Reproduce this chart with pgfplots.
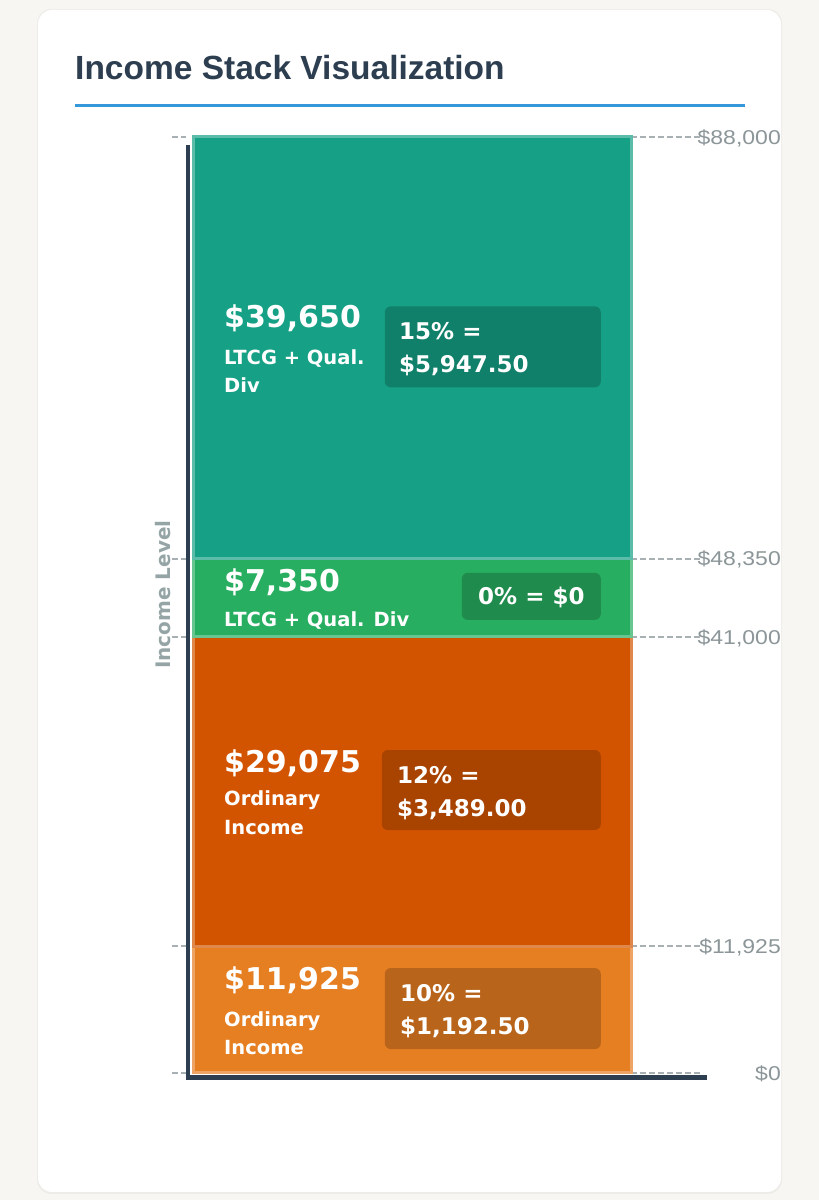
\documentclass[border=0pt]{standalone}
\usepackage{pgfplots}
\pgfplotsset{compat=1.18}
\usepackage{fontspec}
\setmainfont{DejaVu Sans}
\newfontfamily\headfont{Liberation Sans}
\newfontfamily\tickfont{Liberation Sans}[FakeStretch=1.15]

\definecolor{pagebg}{HTML}{F7F6F3}
\definecolor{ink}{HTML}{2C3E50}
\definecolor{rulecol}{HTML}{3498DB}
\definecolor{tickgray}{HTML}{8C9699}
\definecolor{dashgray}{HTML}{A9B0B3}
\definecolor{labgray}{HTML}{95A5A6}
\definecolor{segA}{HTML}{16A085}\definecolor{segAb}{HTML}{5BBCA9}
\definecolor{segB}{HTML}{27AE60}\definecolor{segBb}{HTML}{67C68F}
\definecolor{segC}{HTML}{D35400}\definecolor{segCb}{HTML}{E0874C}
\definecolor{segD}{HTML}{E67E22}\definecolor{segDb}{HTML}{EDA464}

\newcommand\bignum{\bfseries\fontsize{30}{36}\selectfont}
\newcommand\lab{\bfseries\fontsize{19.5}{24}\selectfont}
\newcommand\boxtxt{\bfseries\fontsize{23}{28}\selectfont}

\begin{document}
\begin{tikzpicture}[x=1pt,y=1pt]
\fill[pagebg] (0,0) rectangle (819,1200);
\useasboundingbox (0,0) rectangle (819,1200);
% card
\fill[black, opacity=0.04, rounded corners=14pt] (37,6) rectangle (782,1191);
\fill[white, rounded corners=14pt] (38,8) rectangle (781,1190);
% heading
\node[anchor=base west, inner sep=0pt, text=ink,
      font=\headfont\bfseries\fontsize{33.5}{40}\selectfont] at (75,1120)
      {Income Stack Visualization};
\fill[rulecol] (75,1093) rectangle (745,1096);

\begin{axis}[
  at={(193pt,127pt)}, anchor=south west,
  width=438pt, height=936pt, scale only axis,
  xmin=0, xmax=438, ymin=0, ymax=88000,
  clip=false,
  axis line style={draw=none},
  xtick=\empty,
  ytick={0,11925,41000,48350,88000},
  yticklabels={{\$0},{\$11,925},{\$41,000},{\$48,350},{\$88,000}},
  scaled y ticks=false,
  ytick pos=right, yticklabel pos=right,
  major tick length=0pt,
  yticklabel style={font=\tickfont\fontsize{20}{24}\selectfont, text=tickgray,
                    anchor=east, inner sep=0pt, xshift=150pt, yshift=-1pt},
]
% dashed level markers on both sides of the stack
\pgfplotsinvokeforeach{0,11925,41000,48350,88000}{
  \draw[dashgray, line width=2pt, dash pattern=on 6pt off 3pt]
    (axis cs:-21,#1) -- (axis cs:-7,#1);
  \draw[dashgray, line width=2pt, dash pattern=on 6pt off 3pt]
    (axis cs:438,#1) -- (axis cs:510,#1);
}
% axis rails
\draw[ink, line width=4pt] (axis cs:-5,-658) -- (axis cs:-5,87250);
\draw[ink, line width=5pt] (axis cs:-7,-423) -- (axis cs:514,-423);

% stacked income segments
\addplot[fill=segD, draw=segDb, line width=3pt]
  coordinates {(0,0) (438,0) (438,11925) (0,11925)} --cycle;
\addplot[fill=segC, draw=segCb, line width=3pt]
  coordinates {(0,11925) (438,11925) (438,41000) (0,41000)} --cycle;
\addplot[fill=segB, draw=segBb, line width=3pt]
  coordinates {(0,41000) (438,41000) (438,48350) (0,48350)} --cycle;
\addplot[fill=segA, draw=segAb, line width=3pt]
  coordinates {(0,48350) (438,48350) (438,88000) (0,88000)} --cycle;

% segment 48,350 - 88,000
\node[anchor=base west, inner sep=0pt, text=white, font=\bignum, yshift=20.5pt] at (axis cs:31,68175) {\$39,650};
\node[anchor=base west, inner sep=0pt, text=white, font=\lab, yshift=-16.5pt] at (axis cs:31,68175) {LTCG + Qual.};
\node[anchor=base west, inner sep=0pt, text=white, font=\lab, yshift=-44.5pt] at (axis cs:31,68175) {Div};
\node[fill=black, fill opacity=0.2, rounded corners=6pt, minimum width=216pt, minimum height=81pt, anchor=east, inner sep=0pt, yshift=1pt] at (axis cs:408,68175) {};
\node[anchor=base west, inner sep=0pt, text=white, font=\boxtxt, yshift=8.5pt] at (axis cs:206,68175) {15\% =};
\node[anchor=base west, inner sep=0pt, text=white, font=\boxtxt, yshift=-24.5pt] at (axis cs:206,68175) {\$5,947.50};

% segment 41,000 - 48,350
\node[anchor=base west, inner sep=0pt, text=white, font=\bignum, yshift=6.5pt] at (axis cs:31,44675) {\$7,350};
\node[anchor=base west, inner sep=0pt, text=white, font=\lab, yshift=-28.5pt] at (axis cs:31,44675) {LTCG + Qual. Div};
\node[fill=black, fill opacity=0.2, rounded corners=6pt, minimum width=139pt, minimum height=47pt, anchor=east, inner sep=0pt, yshift=1.5pt] at (axis cs:408,44675) {};
\node[anchor=base west, inner sep=0pt, text=white, font=\boxtxt, yshift=-6.5pt] at (axis cs:285,44675) {0\% = \$0};

% segment 11,925 - 41,000
\node[anchor=base west, inner sep=0pt, text=white, font=\bignum, yshift=19.5pt] at (axis cs:31,26462.5) {\$29,075};
\node[anchor=base west, inner sep=0pt, text=white, font=\lab, yshift=-13.5pt] at (axis cs:31,26462.5) {Ordinary};
\node[anchor=base west, inner sep=0pt, text=white, font=\lab, yshift=-42.5pt] at (axis cs:31,26462.5) {Income};
\node[fill=black, fill opacity=0.2, rounded corners=6pt, minimum width=219pt, minimum height=80pt, anchor=east, inner sep=0pt, yshift=1.5pt] at (axis cs:408,26462.5) {};
\node[anchor=base west, inner sep=0pt, text=white, font=\boxtxt, yshift=8.5pt] at (axis cs:204,26462.5) {12\% =};
\node[anchor=base west, inner sep=0pt, text=white, font=\boxtxt, yshift=-24.5pt] at (axis cs:204,26462.5) {\$3,489.00};

% segment 0 - 11,925
\node[anchor=base west, inner sep=0pt, text=white, font=\bignum, yshift=20.5pt] at (axis cs:31,5962.5) {\$11,925};
\node[anchor=base west, inner sep=0pt, text=white, font=\lab, yshift=-16.5pt] at (axis cs:31,5962.5) {Ordinary};
\node[anchor=base west, inner sep=0pt, text=white, font=\lab, yshift=-44.5pt] at (axis cs:31,5962.5) {Income};
\node[fill=black, fill opacity=0.2, rounded corners=6pt, minimum width=216pt, minimum height=81pt, anchor=east, inner sep=0pt, yshift=1pt] at (axis cs:408,5962.5) {};
\node[anchor=base west, inner sep=0pt, text=white, font=\boxtxt, yshift=8.5pt] at (axis cs:207,5962.5) {10\% =};
\node[anchor=base west, inner sep=0pt, text=white, font=\boxtxt, yshift=-24.5pt] at (axis cs:207,5962.5) {\$1,192.50};

% vertical caption
\node[rotate=90, inner sep=0pt, text=labgray, font=\bfseries\fontsize{20}{24}\selectfont] at (axis cs:-30,44987) {Income Level};
\end{axis}
\end{tikzpicture}
\end{document}
